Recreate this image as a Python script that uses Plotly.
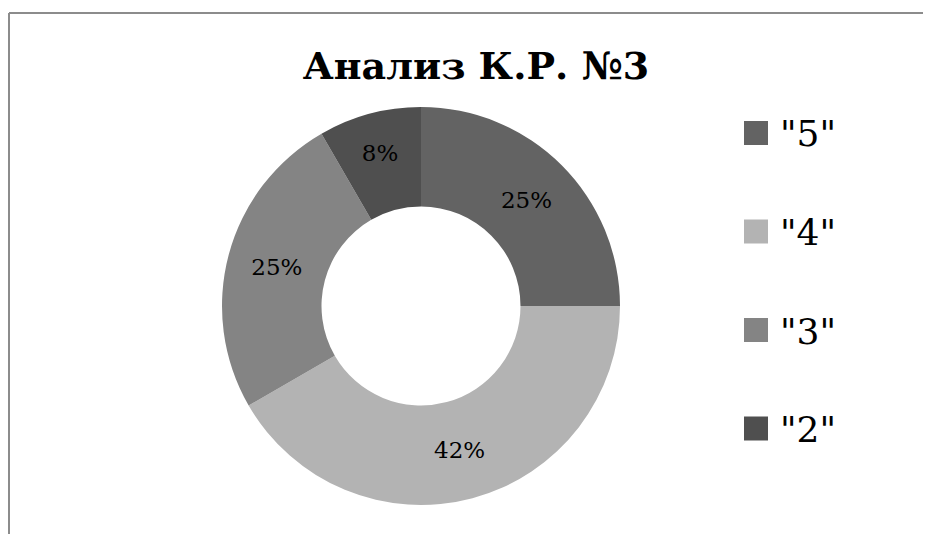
import plotly.graph_objects as go

# grade distribution for test No.3
labels = ['"5"', '"4"', '"3"', '"2"']
counts = [3, 5, 3, 1]
colors = ["#636363", "#b3b3b3", "#848484", "#4f4f4f"]

title_text = "Анализ К.Р. №3"
font_family = "DejaVu Serif"

# page has an 8px body margin, so the figure is a bit smaller than the window
OFF = 8
W, H = 931 - OFF, 534 - OFF


def px_x(x):
    # page pixel -> paper x
    return (x - OFF) / W


def px_y(y):
    # page pixel (from top) -> paper y
    return 1 - (y - OFF) / H


fig = go.Figure(
    go.Pie(
        labels=labels,
        values=counts,
        hole=0.5,
        sort=False,
        direction="clockwise",
        rotation=0,
        marker=dict(colors=colors, line=dict(width=0)),
        texttemplate="%{percent:.0%}",
        textposition="inside",
        insidetextorientation="horizontal",
        textfont=dict(family=font_family, size=23, color="black"),
        domain=dict(x=[px_x(222), px_x(620)], y=[px_y(505), px_y(107)]),
        showlegend=False,
    )
)

# legend drawn by hand, Excel-style wide spacing
shapes = []
annotations = []
for i, (lab, col) in enumerate(zip(labels, colors)):
    yc = 133 + i * 98.5
    shapes.append(
        dict(type="rect", xref="paper", yref="paper",
             x0=px_x(744), x1=px_x(768), y0=px_y(yc + 12), y1=px_y(yc - 12),
             fillcolor=col, line=dict(width=0))
    )
    annotations.append(
        dict(text=lab, xref="paper", yref="paper", x=px_x(778), y=px_y(yc + 1),
             xanchor="left", yanchor="middle", showarrow=False,
             font=dict(family=font_family, size=36, color="black"))
    )

# frame lines (top and left edges of the chart area)
shapes.append(dict(type="line", xref="paper", yref="paper", x0=px_x(9), x1=1, y0=px_y(13), y1=px_y(13),
                   line=dict(color="#8c8c8c", width=2)))
shapes.append(dict(type="line", xref="paper", yref="paper", x0=px_x(9), x1=px_x(9), y0=0, y1=px_y(13),
                   line=dict(color="#8c8c8c", width=2)))

fig.update_layout(
    width=W,
    height=H,
    margin=dict(l=0, r=0, t=0, b=0),
    paper_bgcolor="white",
    plot_bgcolor="white",
    title=dict(text="<b>" + title_text + "</b>", x=px_x(476), xanchor="center",
               y=px_y(66), yanchor="middle",
               font=dict(family=font_family, size=38, color="black")),
    shapes=shapes,
    annotations=annotations,
)

fig.write_html("out.html")
